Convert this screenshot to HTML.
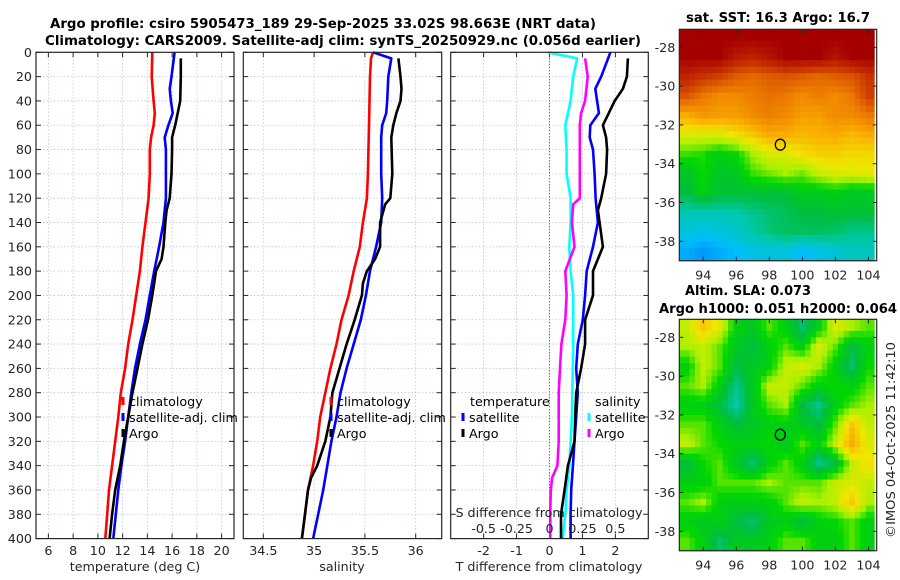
<!DOCTYPE html>
<html><head><meta charset="utf-8">
<style>
html,body{margin:0;padding:0;background:#fff;}
svg{display:block;font-family:"DejaVu Sans","Liberation Sans",sans-serif;}
.tk{font-size:12.7px;fill:#262626;}
.lg{font-size:12.7px;fill:#000;}
.tt{font-size:13px;font-weight:bold;fill:#000;}
</style></head>
<body>
<svg id="fig" width="900" height="580" viewBox="0 0 900 580">
<text class="tt" x="50" y="28" textLength="546" lengthAdjust="spacingAndGlyphs">Argo profile: csiro 5905473_189 29-Sep-2025 33.02S 98.663E (NRT data)</text>
<text class="tt" x="45" y="45" textLength="596" lengthAdjust="spacingAndGlyphs">Climatology: CARS2009. Satellite-adj clim: synTS_20250929.nc (0.056d earlier)</text>
<text class="tt" x="686" y="22" textLength="184" lengthAdjust="spacingAndGlyphs">sat. SST: 16.3 Argo: 16.7</text>
<text class="tt" x="685" y="295" textLength="126" lengthAdjust="spacingAndGlyphs">Altim. SLA: 0.073</text>
<text class="tt" x="659" y="313" textLength="238" lengthAdjust="spacingAndGlyphs">Argo h1000: 0.051 h2000: 0.064</text>
<text class="tk" transform="translate(895,440) rotate(-90)" text-anchor="middle" textLength="196" lengthAdjust="spacingAndGlyphs">©IMOS 04-Oct-2025 11:42:10</text>
<g id="g"></g>
</svg>
<script>
// ---------- data ----------
const depthTicks=[0,20,40,60,80,100,120,140,160,180,200,220,240,260,280,300,320,340,360,380,400];
const tempTicks=[6,8,10,12,14,16,18,20];
const salTicks=[34.5,35,35.5,36];
const salTickLabels=["34.5","35","35.5","36"];
const tdiffTicks=[-2,-1,0,1,2];
const sdiffTicks=[-0.5,-0.25,0,0.25,0.5];
const sdiffTickLabels=["-0.5","-0.25","0","0.25","0.5"];

const climTDepth=[0,20,40,50,60,70,80,100,120,140,160,180,200,220,240,260,280,300,320,340,360,380,400];
const climT=[14.4,14.35,14.5,14.6,14.5,14.3,14.2,14.2,14.1,13.85,13.6,13.4,13.1,12.8,12.45,12.2,11.85,11.65,11.4,11.15,10.9,10.75,10.6];
const satTDepth=[0,20,30,40,50,60,70,80,100,120,140,160,180,200,220,240,260,280,300,320,340,360,380,400];
const satT=[16.2,15.95,15.8,15.9,16.05,15.7,15.4,15.5,15.5,15.5,15.3,14.95,14.55,14.2,13.85,13.4,13.0,12.7,12.45,12.2,11.9,11.65,11.45,11.25];
const argoTDepth=[5,20,40,50,60,70,80,100,120,130,140,160,170,180,200,220,240,260,280,300,320,340,350,360,380,400];
const argoT=[16.7,16.7,16.65,16.45,16.25,16.0,16.0,15.95,15.8,15.55,15.45,15.3,15.15,14.7,14.4,14.05,13.6,13.2,12.8,12.45,12.1,11.8,11.6,11.4,11.15,10.95];

const climSDepth=[0,5,20,60,100,120,140,160,180,200,220,240,260,280,300,320,340,360,380,400];
const climS=[35.58,35.56,35.55,35.54,35.53,35.52,35.48,35.45,35.39,35.34,35.27,35.22,35.16,35.11,35.06,35.03,34.99,34.94,34.91,34.88];
const satSDepth=[0,5,20,40,50,60,70,80,100,120,140,160,180,200,220,240,260,280,300,320,340,360,380,400];
const satS=[35.58,35.76,35.73,35.72,35.71,35.67,35.66,35.66,35.66,35.67,35.66,35.61,35.55,35.51,35.46,35.39,35.32,35.26,35.22,35.17,35.13,35.09,35.04,34.99];
const argoSDepth=[5,20,30,40,50,60,70,100,120,125,140,160,170,180,190,200,220,240,260,280,300,320,340,350,360,380,400];
const argoS=[35.83,35.85,35.86,35.85,35.81,35.78,35.76,35.77,35.75,35.70,35.65,35.65,35.60,35.52,35.48,35.47,35.40,35.32,35.25,35.18,35.16,35.11,35.03,34.97,34.94,34.91,34.88];

const satTdDepth=[0,20,30,50,60,70,80,100,120,140,160,180,200,220,240,260,280,300,320,340,360,380,400];
const satTd=[1.85,1.57,1.39,1.5,1.24,1.22,1.32,1.37,1.4,1.47,1.32,1.13,1.08,1.01,0.86,0.81,0.86,0.81,0.76,0.71,0.66,0.64,0.64];
const argoTdDepth=[5,20,30,40,50,60,70,80,100,120,130,140,160,180,200,220,240,260,280,300,320,340,360,380,400];
const argoTd=[2.38,2.35,2.23,1.98,1.8,1.62,1.72,1.75,1.72,1.57,1.47,1.52,1.62,1.32,1.32,1.08,1.08,0.96,0.81,0.78,0.76,0.56,0.46,0.35,0.35];
const satSdDepth=[0,5,20,40,60,80,100,120,140,160,180,200,240,300,340,360,380,400];
const satSd=[-0.013,0.21,0.18,0.16,0.12,0.13,0.13,0.16,0.16,0.15,0.16,0.18,0.18,0.17,0.15,0.13,0.12,0.1];
const argoSdDepth=[5,20,40,50,60,100,120,125,140,160,180,200,220,240,260,280,300,320,340,350,360,380,400];
const argoSd=[0.27,0.29,0.27,0.24,0.23,0.23,0.23,0.18,0.17,0.19,0.12,0.13,0.12,0.09,0.08,0.07,0.07,0.07,0.06,0.02,0.01,0.005,0.005];

const lonTicks=[94,96,98,100,102,104];
const latTicks=[-28,-30,-32,-34,-36,-38];
const argoLon=98.663, argoLat=-33.02;
// normalized (0..1) colour values, rows from -27 (north) to -39, cols 92.5..104.5
const sstGrid=[
[1,1,1,1,1,1,1,1,1,1,1,1],
[1,1,1,0.95,0.93,0.96,1,1,1,0.96,1,1],
[0.93,0.9,0.88,0.84,0.82,0.84,0.85,0.84,0.82,0.84,0.85,0.9],
[0.85,0.8,0.77,0.77,0.79,0.81,0.8,0.77,0.79,0.77,0.8,0.88],
[0.72,0.75,0.74,0.74,0.77,0.79,0.77,0.74,0.74,0.77,0.77,0.8],
[0.62,0.62,0.62,0.65,0.68,0.72,0.72,0.7,0.71,0.72,0.7,0.72],
[0.54,0.53,0.5,0.52,0.58,0.62,0.62,0.65,0.67,0.67,0.66,0.66],
[0.47,0.52,0.47,0.48,0.54,0.56,0.58,0.56,0.6,0.62,0.62,0.63],
[0.45,0.5,0.46,0.46,0.46,0.46,0.46,0.49,0.49,0.5,0.48,0.48],
[0.37,0.37,0.37,0.38,0.4,0.42,0.43,0.45,0.45,0.46,0.46,0.46],
[0.33,0.32,0.33,0.35,0.38,0.41,0.43,0.43,0.43,0.42,0.4,0.4],
[0.27,0.24,0.27,0.3,0.32,0.33,0.33,0.3,0.32,0.34,0.36,0.36]];
const slaGrid=[
[0.6,0.68,0.62,0.5,0.48,0.55,0.5,0.42,0.5,0.62,0.58,0.55],
[0.58,0.6,0.55,0.48,0.45,0.5,0.55,0.5,0.62,0.55,0.45,0.5],
[0.5,0.6,0.55,0.45,0.48,0.5,0.6,0.62,0.58,0.5,0.42,0.52],
[0.55,0.58,0.5,0.4,0.48,0.6,0.6,0.55,0.5,0.52,0.5,0.55],
[0.5,0.5,0.45,0.38,0.48,0.55,0.58,0.45,0.4,0.5,0.55,0.58],
[0.55,0.55,0.5,0.45,0.48,0.5,0.5,0.48,0.45,0.55,0.68,0.6],
[0.6,0.55,0.52,0.5,0.5,0.52,0.48,0.55,0.5,0.6,0.72,0.62],
[0.45,0.52,0.55,0.48,0.42,0.5,0.55,0.5,0.4,0.45,0.6,0.65],
[0.5,0.5,0.55,0.55,0.55,0.58,0.55,0.55,0.55,0.6,0.62,0.6],
[0.55,0.58,0.5,0.5,0.5,0.5,0.55,0.6,0.58,0.6,0.68,0.58],
[0.5,0.48,0.5,0.45,0.42,0.48,0.5,0.45,0.5,0.52,0.55,0.5],
[0.55,0.5,0.42,0.48,0.48,0.5,0.55,0.55,0.5,0.5,0.55,0.5]];

// ---------- drawing ----------
const NS="http://www.w3.org/2000/svg";
const root=document.getElementById('g');
function mk(tag,attrs,parent){const e=document.createElementNS(NS,tag);for(const k in attrs)e.setAttribute(k,attrs[k]);(parent||root).appendChild(e);return e;}
const Y0=52.3, Y1=538.6;
function yD(d){return Y0+(d/400)*(Y1-Y0);}
function lin(d0,d1,r0,r1){return v=>r0+(v-d0)/(d1-d0)*(r1-r0);}

function panel(name,x0,x1,xs,ticks,labels,showY){
  const g=mk('g',{});
  
  
  for(const d of depthTicks){const y=yD(d);
    const l=mk('line',{x1:x0,x2:x1,y1:y,y2:y,stroke:'#b8c4e8','stroke-width':0.8,'stroke-dasharray':'1.5,2'},g);
    
    mk('line',{x1:x0,x2:x0+5,y1:y,y2:y,stroke:'#262626'},g);
    mk('line',{x1:x1-5,x2:x1,y1:y,y2:y,stroke:'#262626'},g);
    if(showY){const t=mk('text',{x:x0-4,y:y+4.5,'text-anchor':'end',class:'tk'},g);t.textContent=d;
      }
  }
  ticks.forEach((v,i)=>{const x=xs(v);
    const l=mk('line',{x1:x,x2:x,y1:Y0,y2:Y1,stroke:'#b8c4e8','stroke-width':0.8,'stroke-dasharray':'1.5,2'},g);
    
    mk('line',{x1:x,x2:x,y1:Y1,y2:Y1-5,stroke:'#262626'},g);
    mk('line',{x1:x,x2:x,y1:Y0,y2:Y0+5,stroke:'#262626'},g);
    const t=mk('text',{x:x,y:555,'text-anchor':'middle',class:'tk'},g);t.textContent=labels[i];
    
  });
  return g;
}
function frame(x0,x1){const r=mk('rect',{x:x0,y:Y0,width:x1-x0,height:Y1-Y0,fill:'none',stroke:'#262626','stroke-width':1.2});
  }
function series(name,depths,vals,xs,color){
  const pts=depths.map((d,i)=>xs(vals[i]).toFixed(1)+','+yD(d).toFixed(1)).join(' ');
  const p=mk('polyline',{points:pts,fill:'none',stroke:color,'stroke-width':2.6,'stroke-linejoin':'round'});
  
}
function legendEntry(name,x,y,color,label){
  const g=mk('g',{});
  
  mk('line',{x1:x,x2:x,y1:y-9,y2:y-1,stroke:color,'stroke-width':3},g);
  const t=mk('text',{x:x+6,y:y,class:'lg'},g);t.textContent=label;
}
function xlabel(name,x,y,txt){const t=mk('text',{x:x,y:y,'text-anchor':'middle',class:'tk'});t.textContent=txt;
  }

// panel 1 temperature
const xT=lin(5,21,36,234);
panel('temperature-panel',36,234,xT,tempTicks,tempTicks.map(String),true);
series('climatology-temperature-line',climTDepth,climT,xT,'#ff0000');
series('satellite-temperature-line',satTDepth,satT,xT,'#0000ff');
series('argo-temperature-line',argoTDepth,argoT,xT,'#000000');
frame(36,234);
legendEntry('legend-climatology',123,406,'#ff0000','climatology');
legendEntry('legend-satellite-adj',123,422,'#0000ff','satellite-adj. clim');
legendEntry('legend-argo',123,438,'#000000','Argo');
xlabel('temperature-axis-title',135,571,'temperature (deg C)');

// panel 2 salinity
const xS=lin(34.303,36.256,243.3,441.7);
panel('salinity-panel',243.3,441.7,xS,salTicks,salTickLabels,false);
series('climatology-salinity-line',climSDepth,climS,xS,'#ff0000');
series('satellite-salinity-line',satSDepth,satS,xS,'#0000ff');
series('argo-salinity-line',argoSDepth,argoS,xS,'#000000');
frame(243.3,441.7);
legendEntry('legend-climatology-sal',331,406,'#ff0000','climatology');
legendEntry('legend-satellite-adj-sal',331,422,'#0000ff','satellite-adj. clim');
legendEntry('legend-argo-sal',331,438,'#000000','Argo');
xlabel('salinity-axis-title',342,571,'salinity');

// panel 3 differences
const xD=lin(-3,3,450.7,648.3);
const xSD=v=>xD(v*4);
panel('difference-panel',450.7,648.3,xD,tdiffTicks,tdiffTicks.map(String),false);
const zl=mk('line',{x1:xD(0),x2:xD(0),y1:Y0,y2:Y1,stroke:'#4a4a2a','stroke-width':1,'stroke-dasharray':'1,2'});

series('satellite-salinity-diff-line',satSdDepth,satSd,xSD,'#00ffff');
series('argo-salinity-diff-line',argoSdDepth,argoSd,xSD,'#ff00ff');
series('satellite-temperature-diff-line',satTdDepth,satTd,xD,'#0000ff');
series('argo-temperature-diff-line',argoTdDepth,argoTd,xD,'#000000');
frame(450.7,648.3);
(function(){const t=mk('text',{x:470,y:406,class:'lg'});t.textContent='temperature';
 
 const s=mk('text',{x:595,y:406,class:'lg'});s.textContent='salinity';
 })();
legendEntry('legend-t-satellite',463,422,'#0000ff','satellite');
legendEntry('legend-t-argo',463,438,'#000000','Argo');
legendEntry('legend-s-satellite',589,422,'#00ffff','satellite');
legendEntry('legend-s-argo',589,438,'#ff00ff','Argo');
xlabel('s-diff-axis-title',549,517,'S difference from climatology');
sdiffTicks.forEach((v,i)=>{const t=mk('text',{x:xSD(v),y:533,'text-anchor':'middle',class:'tk'});t.textContent=sdiffTickLabels[i];
 });
xlabel('t-diff-axis-title',549,571,'T difference from climatology');

// maps
const cmapStops=[[0,[0,60,200]],[0.2,[0,130,250]],[0.3,[0,190,250]],[0.38,[0,200,170]],[0.45,[0,190,60]],[0.52,[0,215,0]],[0.58,[170,240,0]],[0.64,[240,230,0]],[0.72,[250,170,0]],[0.8,[235,120,0]],[0.9,[200,50,0]],[1,[165,0,0]]];
function cmap(v){v=Math.max(0,Math.min(1,v));
  for(let i=1;i<cmapStops.length;i++){const [a,ca]=cmapStops[i-1],[b,cb]=cmapStops[i];
    if(v<=b){const f=(v-a)/(b-a);return 'rgb('+ca.map((c,k)=>Math.round(c+(cb[k]-c)*f)).join(',')+')';}}
  return 'rgb(165,0,0)';}
function sample(grid,fr,fc){ // bilinear at fractional row/col (cell centers at r+0.5)
  const R=grid.length,C=grid[0].length;
  let r=fr-0.5,c=fc-0.5;r=Math.max(0,Math.min(R-1,r));c=Math.max(0,Math.min(C-1,c));
  const r0=Math.floor(r),c0=Math.floor(c),r1=Math.min(R-1,r0+1),c1=Math.min(C-1,c0+1),dr=r-r0,dc=c-c0;
  return grid[r0][c0]*(1-dr)*(1-dc)+grid[r0][c1]*(1-dr)*dc+grid[r1][c0]*dr*(1-dc)+grid[r1][c1]*dr*dc;}
function map(name,top,bottom,grid){
  const L=679.3,R=876.7;
  const xm=lin(92.55,104.5,L,R), ym=lin(-27.07,-39,top,bottom);
  const g=mk('g',{});
  
  const SUB=3;
  for(let r=0;r<grid.length*SUB;r++)for(let c=0;c<grid[0].length*SUB;c++){
    const fr=(r+0.5)/SUB, fc=(c+0.5)/SUB;
    const v=sample(grid,fr,fc);
    const x0=xm(92.5+c/SUB),x1=xm(92.5+(c+1)/SUB),y0=ym(-27-r/SUB),y1=ym(-27-(r+1)/SUB);
    const cx0=Math.max(L,x0),cy0=Math.max(top,y0),cx1=Math.min(R-2,x1),cy1=Math.min(bottom,y1);
    if(cx1<=cx0||cy1<=cy0)continue;
    const cell=mk('rect',{x:cx0,y:cy0,width:cx1-cx0+0.6,height:cy1-cy0+0.6,fill:cmap(v)},g);
    
    
  }
  mk('rect',{x:R-2,y:top,width:2,height:bottom-top,fill:'#fff'},g);
  const cir=mk('ellipse',{cx:xm(argoLon),cy:ym(argoLat),rx:5,ry:5.5,fill:'none',stroke:'#000','stroke-width':1.3},g);
  
  mk('rect',{x:L,y:top,width:R-L,height:bottom-top,fill:'none',stroke:'#262626','stroke-width':1.2},g);
  lonTicks.forEach(v=>{const x=xm(v);
    mk('line',{x1:x,x2:x,y1:bottom,y2:bottom-4,stroke:'#262626'},g);
    mk('line',{x1:x,x2:x,y1:top,y2:top+4,stroke:'#262626'},g);
    const t=mk('text',{x:x,y:bottom+19,'text-anchor':'middle',class:'tk'},g);t.textContent=v;
    });
  latTicks.forEach(v=>{const y=ym(v);
    mk('line',{x1:L,x2:L+4,y1:y,y2:y,stroke:'#262626'},g);
    mk('line',{x1:R,x2:R-4,y1:y,y2:y,stroke:'#262626'},g);
    const t=mk('text',{x:L-4,y:y+4.5,'text-anchor':'end',class:'tk'},g);t.textContent=v;
    });
}
map('sst-map',29.3,260.7,sstGrid);
map('sla-map',319.3,550.7,slaGrid);
</script>
</body></html>
